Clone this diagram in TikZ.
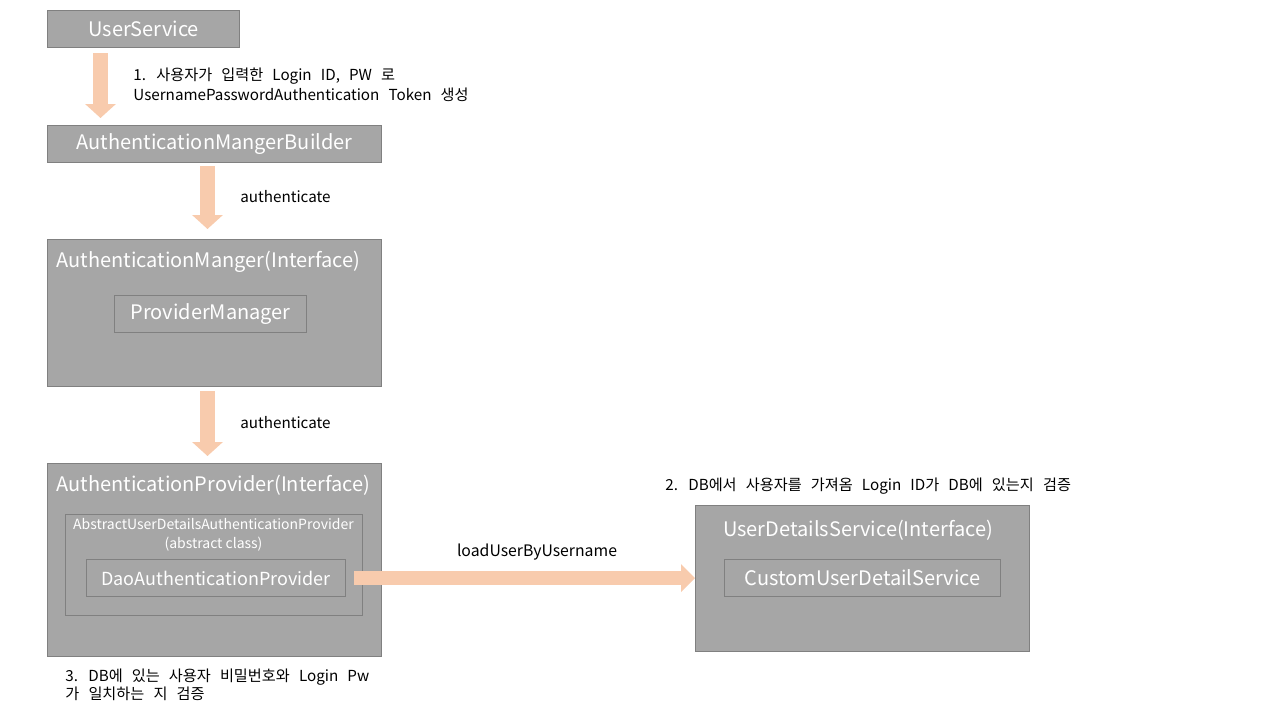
\documentclass[tikz,border=0pt]{standalone}
\usepackage{fontspec}
\setmainfont{Noto Sans CJK KR}
\usetikzlibrary{positioning, arrows.meta, calc}
\definecolor{boxgray}{HTML}{A6A6A6}
\definecolor{boxline}{HTML}{808080}
\definecolor{flowpeach}{HTML}{F8CBAD}

\begin{document}
\begin{tikzpicture}[
                    x=0.5pt, y=-0.5pt,
                    box/.style={draw=boxline, fill=boxgray, text=white, line width=0.6pt,
                                anchor=north west, inner sep=0pt, font=\fontsize{10}{12}\selectfont},
                    inbox/.style={box, fill=none},
                    title/.style={text=white, inner sep=0pt, font=\fontsize{10}{12}\selectfont},
                    note/.style={inner sep=0pt, anchor=west, align=left, font=\fontsize{7.6}{10}\selectfont},
                    widenote/.style={note, execute at begin node={\spaceskip=0.6em\relax}},
                    flow/.style={draw=flowpeach, line width=7.5pt,
                                 -{Triangle[width=15pt, length=7pt]}},
                    sideflow/.style={draw=flowpeach, line width=7pt,
                                 -{Triangle[width=13.5pt, length=7pt]}}
                ]
                  \useasboundingbox (0,0) rectangle (1280,720);

                  \node[box, minimum width=96pt, minimum height=18.5pt] (usr) at (47,10) {UserService};
                  \node[box, minimum width=167pt, minimum height=18.5pt] (amb) at (47,125) {AuthenticationMangerBuilder};

                  \node[box, minimum width=167pt, minimum height=73.5pt] (am) at (47,239) {};
                  \node[title, anchor=west] (amtitle) at (56,262) {AuthenticationManger(Interface)};
                  \node[inbox, minimum width=96pt, minimum height=18.5pt] (pm) at (114,295) {ProviderManager};

                  \node[box, minimum width=167pt, minimum height=96.5pt] (ap) at (47,463) {};
                  \node[title, anchor=west] (aptitle) at (56,485) {AuthenticationProvider(Interface)};
                  \node[inbox, minimum width=148.5pt, minimum height=50.5pt] (abs) at (65,514) {};
                  \node[title, align=center, font=\fontsize{7}{9.5}\selectfont] (abstitle) at (213.5,535)
                        {AbstractUserDetailsAuthenticationProvider\\(abstract class)};
                  \node[inbox, minimum width=129.5pt, minimum height=18.5pt, font=\fontsize{9}{11}\selectfont]
                        (dao) at (86,559) {DaoAuthenticationProvider};

                  \node[box, minimum width=167pt, minimum height=73pt] (uds) at (695,505) {};
                  \node[title] (udstitle) at (858,530) {UserDetailsService(Interface)};
                  \node[inbox, minimum width=138pt, minimum height=18.5pt] (cuds) at (724,559) {CustomUserDetailService};

                  \draw[flow, shorten <=2.5pt, shorten >=3.5pt]
                        ([xshift=26.75pt]usr.south west) -- ([xshift=26.75pt]amb.north west);
                  \draw[flow, shorten <=1.5pt, shorten >=5pt]
                        ([xshift=80.25pt]amb.south west) -- ([xshift=80.25pt]am.north west);
                  \draw[flow, shorten <=2pt, shorten >=3.5pt]
                        ([xshift=80.25pt]am.south west) -- ([xshift=80.25pt]ap.north west);
                  \draw[sideflow, shorten <=4pt] (dao.east) -- (dao.east -| uds.west);

                  \node[widenote] (step1) at (133,85) {1. 사용자가 입력한 Login ID, PW 로\\UsernamePasswordAuthentication Token 생성};
                  \node[note] (auth1) at (240,197) {authenticate};
                  \node[note] (auth2) at (240,423) {authenticate};
                  \node[note, anchor=center, font=\fontsize{7.9}{10}\selectfont] (load) at (537,552) {loadUserByUsername};
                  \node[widenote] (step2) at (665,486) {2. DB에서 사용자를 가져옴 Login ID가 DB에 있는지 검증};
                  \node[widenote, font=\fontsize{7.6}{9}\selectfont] (step3) at (65,685) {3. DB에 있는 사용자 비밀번호와 Login Pw\\가 일치하는 지 검증};
                \end{tikzpicture}
\end{document}
